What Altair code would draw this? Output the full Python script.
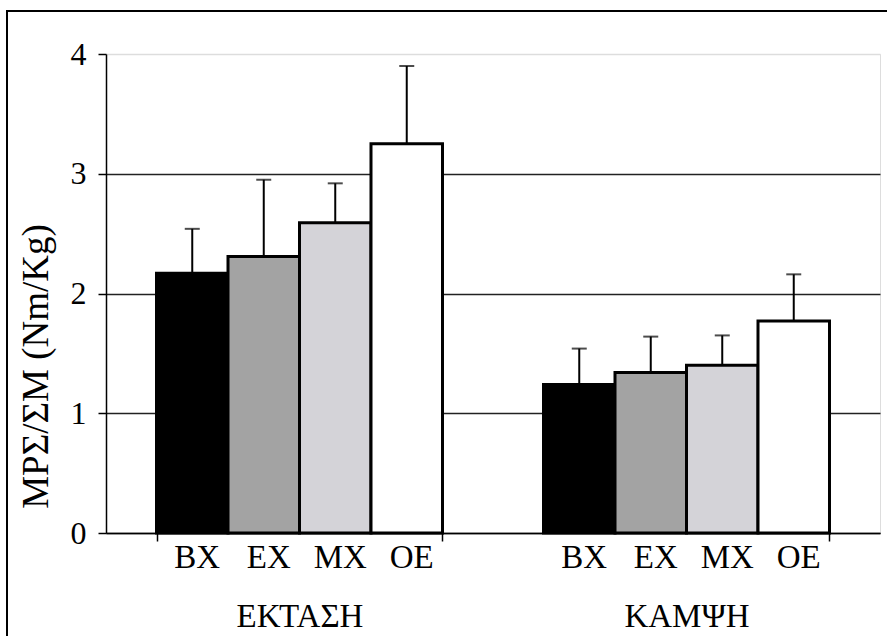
import altair as alt
import pandas as pd

groups = ["ΕΚΤΑΣΗ", "ΚΑΜΨΗ"]
subgroups = ["ΒΧ", "ΕΧ", "ΜΧ", "ΟΕ"]
means_ext = [2.17, 2.31, 2.59, 3.25]
sd_ext = [0.37, 0.64, 0.33, 0.65]
means_flex = [1.24, 1.34, 1.40, 1.77]
sd_flex = [0.30, 0.30, 0.25, 0.39]
colors = ["#000000", "#a3a3a3", "#d4d3d8", "#ffffff"]
y_ticks = [0, 1, 2, 3, 4]

rows = []
for g, ms, ss in [(groups[0], means_ext, sd_ext), (groups[1], means_flex, sd_flex)]:
    for s, m, sd in zip(subgroups, ms, ss):
        rows.append({"group": g, "sub": s, "mean": m, "upper": round(m + sd, 3)})
df = pd.DataFrame(rows)

W, H = 774, 479
FONT = "Liberation Serif"

xenc = alt.X("group:N", sort=groups,
             scale=alt.Scale(paddingInner=0.261, paddingOuter=0.1305),
             axis=alt.Axis(title=None, labelFont=FONT, labelFontSize=33, labelColor="#000",
                           labelPadding=59, labelAngle=0, ticks=True, tickBand="extent",
                           tickSize=8, tickColor="#000", tickWidth=1.5,
                           domainColor="#000", domainWidth=1.5, grid=False))
xoff = alt.XOffset("sub:N", sort=subgroups, scale=alt.Scale(paddingInner=0, paddingOuter=0))
yscale = alt.Scale(domain=[0, 4], nice=False)

bars = alt.Chart(df).mark_bar(stroke="#000", strokeWidth=3, opacity=1).encode(
    x=xenc, xOffset=xoff,
    y=alt.Y("mean:Q", scale=yscale,
            axis=alt.Axis(title="ΜΡΣ/ΣΜ (Nm/Kg)", values=y_ticks, format="d",
                          titleFont=FONT, titleFontSize=37, titleFontWeight="normal",
                          titleColor="#000", titleX=-70, titleY=312, titleAngle=270,
                          titleAlign="center", titleBaseline="middle",
                          labelFont=FONT, labelFontSize=32, labelColor="#000", labelPadding=12,
                          tickSize=8, tickColor="#000", tickWidth=1.5,
                          domainColor="#000", domainWidth=1.5,
                          grid=True,
                          gridColor={"condition": {"test": "datum.value === 4", "value": "#dddddd"},
                                     "value": "#222222"},
                          gridWidth=1.5)),
    fill=alt.Fill("sub:N", sort=subgroups, scale=alt.Scale(domain=subgroups, range=colors), legend=None),
)

stems = alt.Chart(df).mark_rule(color="#000", strokeWidth=2).encode(
    x=alt.X("group:N", sort=groups), xOffset=xoff, y="mean:Q", y2="upper:Q")
caps = alt.Chart(df).mark_tick(color="#000", thickness=2, size=15).encode(
    x=alt.X("group:N", sort=groups), xOffset=xoff, y="upper:Q")

labels = alt.Chart(df).mark_text(font=FONT, fontSize=33, color="#000", baseline="alphabetic", dx=5).encode(
    x=alt.X("group:N", sort=groups), xOffset=xoff, y=alt.value(H + 35), text="sub:N")

frame = alt.Chart(pd.DataFrame({"k": [0]})).mark_rect(fill=None, stroke="#000", strokeWidth=2).encode(
    x=alt.value(-99), x2=alt.value(W + 40), y=alt.value(-43), y2=alt.value(H + 140))

chart = alt.layer(frame, bars, stems, caps, labels).properties(
    width=W, height=H,
    autosize=alt.AutoSizeParams(type="none"),
    padding={"left": 106, "top": 54, "right": 7, "bottom": 103},
).configure_view(stroke=None).configure(background="#ffffff")

chart.save("out.html", embed_options={"renderer": "svg", "actions": False})
